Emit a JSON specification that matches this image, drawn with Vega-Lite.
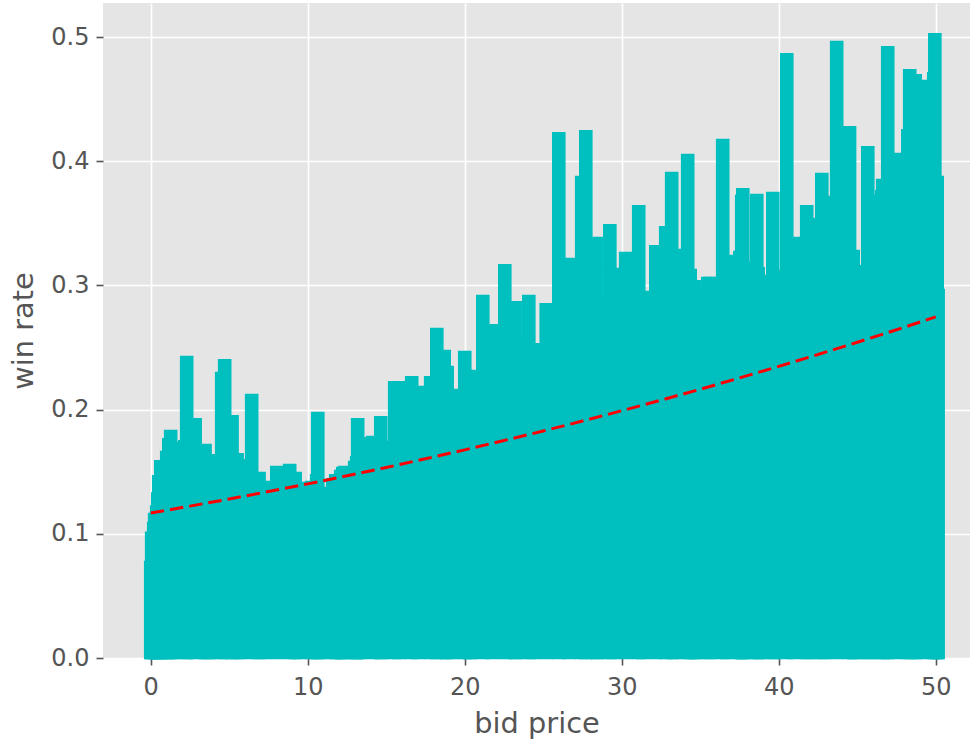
{
  "$schema": "https://vega.github.io/schema/vega-lite/v6.json",
  "width": 867,
  "height": 655,
  "autosize": {"type": "none"},
  "padding": {"left": 103, "top": 3, "right": 3, "bottom": 81},
  "background": "white",
  "config": {
    "view": {"fill": "#E5E5E5", "stroke": null},
    "font": "DejaVu Sans",
    "scale": {"continuousPadding": 0},
    "axis": {
      "domain": false,
      "grid": true,
      "gridColor": "#FFFFFF",
      "gridWidth": 1.6,
      "tickColor": "#555555",
      "tickSize": 7,
      "tickWidth": 1.6,
      "labelColor": "#555555",
      "labelFontSize": 24,
      "labelFont": "DejaVu Sans",
      "titleColor": "#555555",
      "titleFontSize": 28.8,
      "titleFontWeight": "normal",
      "titleFont": "DejaVu Sans"
    }
  },
  "datasets": {
    "bars": [
      {"bid_price": 0.00, "win_rate": 0.0773},
      {"bid_price": 0.06, "win_rate": 0.1010},
      {"bid_price": 0.19, "win_rate": 0.1087},
      {"bid_price": 0.25, "win_rate": 0.1160},
      {"bid_price": 0.38, "win_rate": 0.1220},
      {"bid_price": 0.45, "win_rate": 0.1326},
      {"bid_price": 0.51, "win_rate": 0.1465},
      {"bid_price": 0.64, "win_rate": 0.1586},
      {"bid_price": 1.02, "win_rate": 0.1659},
      {"bid_price": 1.15, "win_rate": 0.1763},
      {"bid_price": 1.27, "win_rate": 0.1828},
      {"bid_price": 1.36, "win_rate": 0.1730},
      {"bid_price": 2.17, "win_rate": 0.1747},
      {"bid_price": 2.29, "win_rate": 0.2424},
      {"bid_price": 2.83, "win_rate": 0.1924},
      {"bid_price": 3.46, "win_rate": 0.1715},
      {"bid_price": 3.66, "win_rate": 0.1634},
      {"bid_price": 3.72, "win_rate": 0.1594},
      {"bid_price": 4.52, "win_rate": 0.2295},
      {"bid_price": 4.71, "win_rate": 0.2399},
      {"bid_price": 5.18, "win_rate": 0.1948},
      {"bid_price": 5.50, "win_rate": 0.1642},
      {"bid_price": 5.63, "win_rate": 0.1594},
      {"bid_price": 6.43, "win_rate": 0.2118},
      {"bid_price": 6.90, "win_rate": 0.1490},
      {"bid_price": 7.22, "win_rate": 0.1417},
      {"bid_price": 8.03, "win_rate": 0.1538},
      {"bid_price": 8.85, "win_rate": 0.1554},
      {"bid_price": 9.20, "win_rate": 0.1490},
      {"bid_price": 9.45, "win_rate": 0.1410},
      {"bid_price": 10.25, "win_rate": 0.1417},
      {"bid_price": 10.57, "win_rate": 0.1473},
      {"bid_price": 10.64, "win_rate": 0.1973},
      {"bid_price": 10.79, "win_rate": 0.1369},
      {"bid_price": 11.59, "win_rate": 0.1441},
      {"bid_price": 11.78, "win_rate": 0.1473},
      {"bid_price": 12.10, "win_rate": 0.1506},
      {"bid_price": 12.23, "win_rate": 0.1530},
      {"bid_price": 12.36, "win_rate": 0.1538},
      {"bid_price": 12.99, "win_rate": 0.1578},
      {"bid_price": 13.12, "win_rate": 0.1618},
      {"bid_price": 13.18, "win_rate": 0.1924},
      {"bid_price": 13.34, "win_rate": 0.1771},
      {"bid_price": 14.14, "win_rate": 0.1780},
      {"bid_price": 14.65, "win_rate": 0.1940},
      {"bid_price": 14.74, "win_rate": 0.1740},
      {"bid_price": 15.54, "win_rate": 0.2222},
      {"bid_price": 15.82, "win_rate": 0.2222},
      {"bid_price": 16.62, "win_rate": 0.2262},
      {"bid_price": 17.03, "win_rate": 0.2182},
      {"bid_price": 17.83, "win_rate": 0.2262},
      {"bid_price": 18.22, "win_rate": 0.2649},
      {"bid_price": 18.69, "win_rate": 0.2472},
      {"bid_price": 18.88, "win_rate": 0.2343},
      {"bid_price": 19.20, "win_rate": 0.2158},
      {"bid_price": 20.00, "win_rate": 0.2464},
      {"bid_price": 20.28, "win_rate": 0.2311},
      {"bid_price": 20.34, "win_rate": 0.2287},
      {"bid_price": 21.15, "win_rate": 0.2915},
      {"bid_price": 21.75, "win_rate": 0.2681},
      {"bid_price": 22.55, "win_rate": 0.3164},
      {"bid_price": 23.21, "win_rate": 0.2866},
      {"bid_price": 23.27, "win_rate": 0.2560},
      {"bid_price": 24.08, "win_rate": 0.2915},
      {"bid_price": 24.36, "win_rate": 0.2528},
      {"bid_price": 25.19, "win_rate": 0.2850},
      {"bid_price": 25.99, "win_rate": 0.4227},
      {"bid_price": 26.65, "win_rate": 0.3213},
      {"bid_price": 27.45, "win_rate": 0.3873},
      {"bid_price": 27.71, "win_rate": 0.4243},
      {"bid_price": 28.37, "win_rate": 0.3382},
      {"bid_price": 28.43, "win_rate": 0.2882},
      {"bid_price": 29.24, "win_rate": 0.3486},
      {"bid_price": 29.45, "win_rate": 0.3132},
      {"bid_price": 30.25, "win_rate": 0.3261},
      {"bid_price": 31.08, "win_rate": 0.3639},
      {"bid_price": 31.36, "win_rate": 0.2947},
      {"bid_price": 32.17, "win_rate": 0.3317},
      {"bid_price": 32.80, "win_rate": 0.3470},
      {"bid_price": 33.18, "win_rate": 0.3905},
      {"bid_price": 33.40, "win_rate": 0.3285},
      {"bid_price": 34.20, "win_rate": 0.4050},
      {"bid_price": 34.36, "win_rate": 0.3124},
      {"bid_price": 34.61, "win_rate": 0.3035},
      {"bid_price": 34.68, "win_rate": 0.2987},
      {"bid_price": 35.48, "win_rate": 0.3060},
      {"bid_price": 35.63, "win_rate": 0.3060},
      {"bid_price": 36.43, "win_rate": 0.4171},
      {"bid_price": 36.71, "win_rate": 0.3237},
      {"bid_price": 37.52, "win_rate": 0.3269},
      {"bid_price": 37.64, "win_rate": 0.3720},
      {"bid_price": 37.71, "win_rate": 0.3776},
      {"bid_price": 37.80, "win_rate": 0.3188},
      {"bid_price": 38.60, "win_rate": 0.3728},
      {"bid_price": 38.69, "win_rate": 0.3140},
      {"bid_price": 38.82, "win_rate": 0.3076},
      {"bid_price": 39.62, "win_rate": 0.3744},
      {"bid_price": 39.71, "win_rate": 0.3116},
      {"bid_price": 40.51, "win_rate": 0.4863},
      {"bid_price": 40.98, "win_rate": 0.3382},
      {"bid_price": 41.78, "win_rate": 0.3639},
      {"bid_price": 41.94, "win_rate": 0.3535},
      {"bid_price": 42.74, "win_rate": 0.3897},
      {"bid_price": 42.89, "win_rate": 0.3712},
      {"bid_price": 43.69, "win_rate": 0.4960},
      {"bid_price": 44.51, "win_rate": 0.4275},
      {"bid_price": 44.74, "win_rate": 0.3277},
      {"bid_price": 44.87, "win_rate": 0.3156},
      {"bid_price": 45.67, "win_rate": 0.4114},
      {"bid_price": 45.76, "win_rate": 0.3720},
      {"bid_price": 46.56, "win_rate": 0.3760},
      {"bid_price": 46.62, "win_rate": 0.3849},
      {"bid_price": 46.94, "win_rate": 0.4919},
      {"bid_price": 47.41, "win_rate": 0.4058},
      {"bid_price": 48.22, "win_rate": 0.4251},
      {"bid_price": 48.34, "win_rate": 0.4734},
      {"bid_price": 48.69, "win_rate": 0.4694},
      {"bid_price": 49.07, "win_rate": 0.4646},
      {"bid_price": 49.87, "win_rate": 0.4710},
      {"bid_price": 49.94, "win_rate": 0.5024},
      {"bid_price": 50.09, "win_rate": 0.3873},
      {"bid_price": 50.15, "win_rate": 0.2963}
    ],
    "fit": [
      {"bid_price": 0.0, "win_rate": 0.1167},
      {"bid_price": 2.5, "win_rate": 0.1223},
      {"bid_price": 5.0, "win_rate": 0.1280},
      {"bid_price": 7.5, "win_rate": 0.1340},
      {"bid_price": 10.0, "win_rate": 0.1402},
      {"bid_price": 12.5, "win_rate": 0.1467},
      {"bid_price": 15.0, "win_rate": 0.1534},
      {"bid_price": 17.5, "win_rate": 0.1604},
      {"bid_price": 20.0, "win_rate": 0.1676},
      {"bid_price": 22.5, "win_rate": 0.1751},
      {"bid_price": 25.0, "win_rate": 0.1828},
      {"bid_price": 27.5, "win_rate": 0.1908},
      {"bid_price": 30.0, "win_rate": 0.1991},
      {"bid_price": 32.5, "win_rate": 0.2076},
      {"bid_price": 35.0, "win_rate": 0.2164},
      {"bid_price": 37.5, "win_rate": 0.2255},
      {"bid_price": 40.0, "win_rate": 0.2348},
      {"bid_price": 42.5, "win_rate": 0.2444},
      {"bid_price": 45.0, "win_rate": 0.2542},
      {"bid_price": 47.5, "win_rate": 0.2643},
      {"bid_price": 50.0, "win_rate": 0.2747}
    ]
  },
  "layer": [
    {
      "data": {"name": "bars"},
      "mark": {"type": "bar", "color": "#00BFBF", "stroke": "#00BFBF", "strokeWidth": 2.3, "strokeJoin": "miter", "width": 11.3, "opacity": 1},
      "encoding": {
        "x": {
          "field": "bid_price",
          "type": "quantitative",
          "scale": {"domain": [-3.04, 52.18], "nice": false, "zero": false, "padding": 0},
          "axis": {"title": "bid price", "values": [0, 10, 20, 30, 40, 50], "format": "d", "labelPadding": 10, "titlePadding": 10}
        },
        "y": {
          "field": "win_rate",
          "type": "quantitative",
          "scale": {"domain": [0, 0.5274], "nice": false, "padding": 0},
          "axis": {"title": "win rate", "values": [0, 0.1, 0.2, 0.3, 0.4, 0.5], "format": ".1f", "labelPadding": 7, "titlePadding": 12}
        }
      }
    },
    {
      "data": {"name": "fit"},
      "mark": {"type": "line", "color": "#FF0000", "strokeWidth": 3, "strokeDash": [13.5, 6], "strokeCap": "butt"},
      "encoding": {
        "x": {"field": "bid_price", "type": "quantitative"},
        "y": {"field": "win_rate", "type": "quantitative"}
      }
    }
  ]
}
